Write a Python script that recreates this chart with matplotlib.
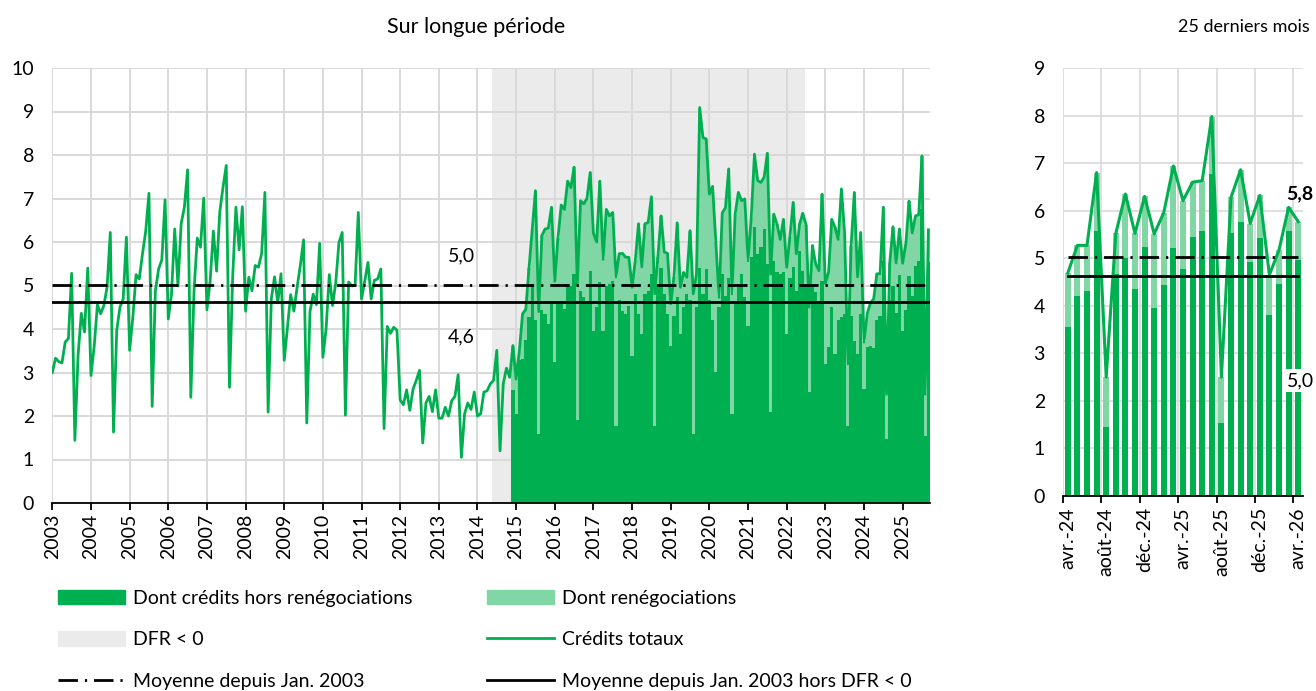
import numpy as np
import matplotlib
matplotlib.use("Agg")
import matplotlib.pyplot as plt
from matplotlib.patches import Patch
from matplotlib.lines import Line2D

plt.rcParams["font.family"] = ["Lato", "DejaVu Sans"]
plt.rcParams["font.size"] = 14

# ---- data: long period, monthly, Jan 2003 -> Sep 2025 ----
first_year = 2003
total = [
    3.0, 3.33, 3.25, 3.22, 3.7, 3.78, 5.28, 1.44, 3.4, 4.36, 3.93, 5.4,        # 2003
    2.93, 3.6, 4.56, 4.35, 4.54, 4.96, 6.22, 1.63, 3.97, 4.5, 4.69, 6.11,      # 2004
    3.51, 4.27, 5.25, 5.15, 5.73, 6.25, 7.12, 2.22, 4.88, 5.38, 5.59, 6.97,    # 2005
    4.23, 4.8, 6.3, 4.99, 6.42, 6.8, 7.66, 2.43, 4.88, 6.09, 5.88, 7.01,       # 2006
    4.44, 5.1, 6.25, 5.33, 6.7, 7.26, 7.76, 2.66, 5.2, 6.8, 5.82, 6.81,        # 2007
    4.41, 5.19, 4.88, 5.46, 5.42, 5.74, 7.14, 2.09, 4.7, 5.2, 4.6, 5.27,       # 2008
    3.28, 4.04, 4.79, 4.41, 4.96, 5.46, 6.05, 1.84, 4.4, 4.8, 4.56, 5.97,      # 2009
    3.35, 4.0, 5.25, 4.54, 5.07, 5.99, 6.22, 2.02, 5.08, 4.99, 5.0, 6.68,      # 2010
    4.69, 5.1, 5.53, 4.69, 5.12, 5.15, 5.38, 1.71, 4.06, 3.9, 4.04, 3.97,      # 2011
    2.37, 2.26, 2.6, 2.13, 2.62, 2.82, 3.05, 1.38, 2.3, 2.45, 2.1, 2.6,        # 2012
    1.95, 1.95, 2.2, 2.0, 2.35, 2.45, 2.95, 1.05, 2.05, 2.3, 2.15, 2.55,       # 2013
    2.0, 2.05, 2.55, 2.58, 2.74, 2.82, 3.51, 1.2, 2.74, 3.1, 2.89, 3.62,       # 2014
    2.85, 3.5, 4.35, 4.45, 5.4, 6.3, 7.18, 4.4, 6.15, 6.3, 6.32, 6.8,          # 2015
    5.1, 6.1, 6.85, 6.75, 7.4, 7.25, 7.72, 5.0, 6.95, 6.88, 7.0, 7.6,          # 2016
    6.2, 6.0, 7.4, 5.6, 6.75, 6.6, 6.68, 5.2, 5.73, 5.74, 5.65, 5.65,          # 2017
    4.96, 5.58, 6.42, 5.43, 6.42, 6.45, 7.04, 4.81, 5.65, 6.6, 5.77, 5.74,     # 2018
    4.58, 5.19, 6.44, 4.96, 5.3, 5.19, 6.26, 4.81, 5.27, 9.09, 8.4, 8.37,      # 2019
    7.1, 7.28, 6.0, 4.73, 6.67, 6.79, 7.68, 4.81, 6.64, 7.14, 6.95, 6.99,      # 2020
    5.57, 6.57, 8.02, 7.41, 7.37, 7.49, 8.04, 5.26, 6.64, 6.41, 6.06, 6.52,    # 2021
    5.42, 6.11, 6.91, 5.73, 6.41, 6.66, 6.4, 4.5, 5.92, 5.5, 5.34, 7.1,        # 2022
    5.05, 5.3, 6.52, 6.34, 6.06, 7.22, 6.2, 3.2, 5.9, 7.14, 5.2, 6.22,         # 2023
    3.7, 4.35, 4.6, 4.69, 5.27, 5.27, 6.8, 2.5, 5.52, 6.35, 5.52, 6.3,         # 2024
    5.51, 5.96, 6.94, 6.21, 6.6, 6.63, 7.98, 2.5, 6.28,                        # 2025
]

# split available from Dec 2014
split_start = (2014, 12)
hors_reneg = [
    2.6,                                                                       # 2014-12
    2.05, 3.28, 3.3, 3.74, 4.27, 5.0, 4.2, 1.59, 4.43, 4.35, 4.12, 4.65,       # 2015
    3.24, 4.65, 4.65, 4.46, 5.04, 5.0, 5.27, 1.9, 4.88, 4.73, 4.65, 5.34,      # 2016
    3.96, 4.5, 5.08, 3.96, 5.0, 5.04, 5.1, 1.78, 4.66, 4.42, 4.35, 4.54,       # 2017
    3.39, 4.81, 4.35, 3.89, 4.81, 4.88, 5.27, 1.78, 5.03, 5.41, 4.81, 4.35,    # 2018
    3.62, 4.31, 4.73, 3.89, 4.5, 4.81, 4.66, 1.59, 4.5, 5.41, 4.81, 5.38,      # 2019
    4.66, 4.2, 3.01, 4.5, 5.26, 4.77, 5.18, 2.05, 4.65, 4.96, 5.26, 4.73,      # 2020
    4.08, 5.65, 6.34, 5.72, 5.88, 6.3, 5.5, 2.1, 5.57, 5.3, 5.26, 5.3,         # 2021
    3.89, 5.18, 5.42, 4.88, 5.8, 5.34, 5.0, 2.55, 4.96, 4.84, 4.58, 5.11,      # 2022
    3.2, 3.58, 4.5, 3.43, 4.2, 4.27, 4.35, 1.78, 4.3, 3.73, 3.43, 4.35,        # 2023
    2.62, 3.58, 3.6, 3.56, 4.21, 4.31, 5.57, 1.46, 4.67, 5.0, 4.36, 5.24,      # 2024
    3.96, 4.44, 5.22, 4.77, 5.45, 5.57, 6.77, 1.54, 5.54,                      # 2025
]

dfr_neg = ((2014, 6), (2022, 7))   # deposit facility rate below zero
mean_all = 5.02
mean_ex_dfr = 4.62

# ---- data: last 25 months ----
r_ticklabels = ["avr.-24", "août-24", "déc.-24", "avr.-25", "août-25", "déc.-25", "avr.-26"]
r_total = [4.69, 5.27, 5.27, 6.8, 2.5, 5.52, 6.35, 5.52, 6.3, 5.51, 5.96, 6.94, 6.21,
           6.6, 6.63, 7.98, 2.5, 6.28, 6.86, 5.73, 6.32, 4.65, 5.17, 6.07, 5.77]
r_hors = [3.56, 4.21, 4.31, 5.57, 1.46, 4.67, 5.0, 4.36, 5.24, 3.96, 4.44, 5.22, 4.77,
          5.45, 5.57, 6.77, 1.54, 5.54, 5.76, 4.92, 5.43, 3.8, 4.45, 5.57, 4.96]

DARK = "#00B050"
LIGHT = "#80D6A5"
GRID = "#d9d9d9"
SHADE = "#ebebeb"
DASHDOT = (0, (7, 2.5, 0.8, 2.5))


def midx(y, m):
    return (y - first_year) * 12 + (m - 1)


def fr(v):
    return f"{v:.1f}".replace(".", ",")


total = np.array(total)
hors_reneg = np.array(hors_reneg)
x_all = np.arange(len(total))
x_split = np.arange(midx(*split_start), midx(*split_start) + len(hors_reneg))
reneg = total[x_split] - hors_reneg

fig = plt.figure(figsize=(13.16, 6.91), dpi=100)

# ---------------- left panel ----------------
ax = fig.add_axes([52 / 1316, 1 - 503 / 691, 878 / 1316, 435 / 691])
ax.axvspan(midx(*dfr_neg[0]) - 0.5, midx(*dfr_neg[1]) - 0.2, color=SHADE, lw=0, zorder=0.2)
ax.bar(x_split, hors_reneg, width=1.0, color=DARK, lw=0, antialiased=False, zorder=2)
ax.bar(x_split, reneg, bottom=hors_reneg, width=1.0, color=LIGHT, lw=0, antialiased=False, zorder=2)
ax.plot(x_all, total, color=DARK, lw=2.0, zorder=4)
ax.axhline(mean_all, color="black", lw=2, ls=DASHDOT, zorder=5)
ax.axhline(mean_ex_dfr, color="black", lw=2, zorder=5)
ax.text(127, 5.69, fr(mean_all), ha="center", va="center")
ax.text(127, 3.83, fr(mean_ex_dfr), ha="center", va="center")

years = list(range(first_year, 2026))
ax.set_xticks([midx(y, 1) for y in years])
ax.set_xticklabels([str(y) for y in years], rotation=90)
ax.set_xlim(-0.1, len(total) - 0.5)
ax.set_ylim(0, 10)
ax.set_yticks(range(0, 11))
ax.grid(True, color=GRID, lw=1.4)
ax.set_axisbelow(True)
for s in ["top", "right", "left"]:
    ax.spines[s].set_visible(False)
ax.spines["bottom"].set_linewidth(1.3)
ax.tick_params(axis="y", length=0, pad=13)
ax.tick_params(axis="x", length=5, width=1.3, pad=3)
fig.text(476 / 1316, 1 - 27 / 691, "Sur longue période", ha="center", va="center", fontsize=15.5)

# ---------------- right panel ----------------
ax2 = fig.add_axes([1063 / 1316, 1 - 496 / 691, 240 / 1316, 428 / 691])
xr = np.arange(len(r_total))
r_total = np.array(r_total)
r_hors = np.array(r_hors)
ax2.bar(xr, r_hors, width=0.62, color=DARK, lw=0, zorder=2)
ax2.bar(xr, r_total - r_hors, bottom=r_hors, width=0.62, color=LIGHT, lw=0, zorder=2)
ax2.plot(xr, r_total, color=DARK, lw=2.2, zorder=4)
ax2.plot([xr[0], xr[-1]], [mean_all] * 2, color="black", lw=2, ls=DASHDOT, zorder=5)
ax2.plot([xr[0], xr[-1]], [mean_ex_dfr] * 2, color="black", lw=2, zorder=5)
ax2.text(22.8, 6.36, fr(r_total[-1]), ha="left", va="center",
         fontweight="bold", clip_on=False, zorder=6)
ax2.text(22.8, 2.43, fr(r_hors[-1]), ha="left", va="center",
         clip_on=False, zorder=6,
         bbox=dict(boxstyle="square,pad=0.15", fc="white", ec="none"))
ax2.set_xlim(-0.5, len(r_total) - 0.5)
ax2.set_ylim(0, 9)
ax2.set_yticks(range(0, 10))
ax2.set_xticks(xr[::4])
ax2.set_xticklabels(r_ticklabels, rotation=90)
ax2.set_xticks(xr[::4] - 0.5, minor=True)
ax2.tick_params(axis="x", which="major", length=0, pad=8)
ax2.tick_params(axis="x", which="minor", length=5, width=1.3)
ax2.tick_params(axis="y", length=0, pad=13)
ax2.grid(True, axis="y", color=GRID, lw=1.2)
ax2.grid(True, axis="x", which="minor", color=GRID, lw=1.2)
ax2.set_axisbelow(True)
for s in ["top", "right", "left"]:
    ax2.spines[s].set_visible(False)
ax2.spines["bottom"].set_linewidth(1.3)
fig.text(1244 / 1316, 1 - 27 / 691, "25 derniers mois", ha="center", va="center", fontsize=13)

# ---------------- legend ----------------
handles = [
    Patch(color=DARK, label="Dont crédits hors renégociations"),
    Patch(color=SHADE, label="DFR < 0"),
    Line2D([], [], color="black", lw=2, ls=DASHDOT, label="Moyenne depuis Jan. 2003"),
    Patch(color=LIGHT, label="Dont renégociations"),
    Line2D([], [], color=DARK, lw=2, label="Crédits totaux"),
    Line2D([], [], color="black", lw=2, label="Moyenne depuis Jan. 2003 hors DFR < 0"),
]
fig.legend(handles=handles, ncol=2, loc="upper left", bbox_to_anchor=(58 / 1316, 1 - 590 / 691),
           frameon=False, handlelength=3.45, handleheight=0.75, handletextpad=0.42,
           columnspacing=3.8, labelspacing=1.25, borderaxespad=0, borderpad=0)

fig.savefig("out.png", dpi=100)
